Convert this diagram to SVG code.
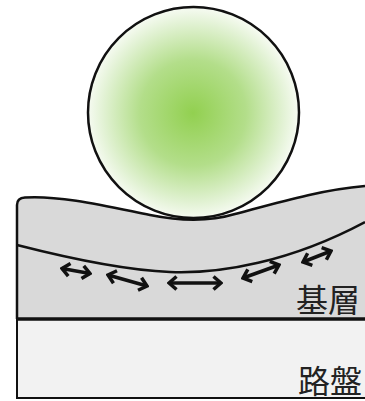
<svg xmlns="http://www.w3.org/2000/svg" width="365" height="401" viewBox="0 0 365 401">
  <defs>
    <radialGradient id="ballFill" cx="193" cy="113" r="106" gradientUnits="userSpaceOnUse">
      <stop offset="0" stop-color="#92d050"/>
      <stop offset="0.5" stop-color="#b3de8a"/>
      <stop offset="0.85" stop-color="#e2f2d4"/>
      <stop offset="1" stop-color="#f7fbf3"/>
    </radialGradient>
    <marker id="chevron" viewBox="-10 -9 12 18" markerWidth="12" markerHeight="18" refX="0" refY="0" markerUnits="userSpaceOnUse" orient="auto-start-reverse">
      <path d="M-7.5,-6.5 L0,0 L-7.5,6.5" fill="none" stroke="#111" stroke-width="3.5" stroke-linejoin="miter"/>
    </marker>
    <style>
      .edge { fill: none; stroke: #111; stroke-width: 2.5; stroke-linejoin: round; }
      .thin { fill: none; stroke: #111; stroke-width: 2; }
      .strain { fill: none; stroke: #111; stroke-width: 3.5; marker-start: url(#chevron); marker-end: url(#chevron); }
      .label { font-family: "Noto Sans CJK JP", "Noto Sans CJK SC", sans-serif; font-size: 32px; fill: #222; }
    </style>
  </defs>

  <rect width="365" height="401" fill="#ffffff"/>

  <!-- subgrade -->
  <g id="subgrade">
    <rect x="17" y="319" width="348" height="79" fill="#f2f2f2"/>
    <path class="thin" d="M17,319 V398 H365"/>
    <text class="label" x="298" y="393">路盤</text>
  </g>

  <!-- base layer, dented by the wheel -->
  <g id="base-layer">
    <path d="M17,205 Q17,198 25,197.5 C60,195 110,207 150,215 C175,220 205,223 235,214 C280,202 320,190 365,186 V319 H17 Z" fill="#d9d9d9"/>
    <path class="edge" d="M17,319 V205 Q17,198 25,197.5 C60,195 110,207 150,215 C175,220 205,223 235,214 C280,202 320,190 365,186"/>
    <path class="edge" d="M17,245 C60,256 120,270 170,272 C220,274 290,262 365,222"/>
    <line x1="17" y1="319" x2="365" y2="319" stroke="#111" stroke-width="3.5"/>
    <text class="label" x="296" y="312">基層</text>
  </g>

  <!-- horizontal strain arrows along the bottom of the base layer -->
  <g id="strain-arrows">
    <line class="strain" x1="62" y1="268.5" x2="90" y2="273.5"/>
    <line class="strain" x1="108" y1="275" x2="147" y2="286"/>
    <line class="strain" x1="169" y1="283" x2="221" y2="283"/>
    <line class="strain" x1="243" y1="278" x2="279" y2="265"/>
    <line class="strain" x1="303" y1="262" x2="331" y2="251"/>
  </g>

  <!-- wheel -->
  <g id="ball">
    <circle cx="193.5" cy="112.5" r="105.5" fill="url(#ballFill)" stroke="#111" stroke-width="2.5"/>
  </g>
</svg>
